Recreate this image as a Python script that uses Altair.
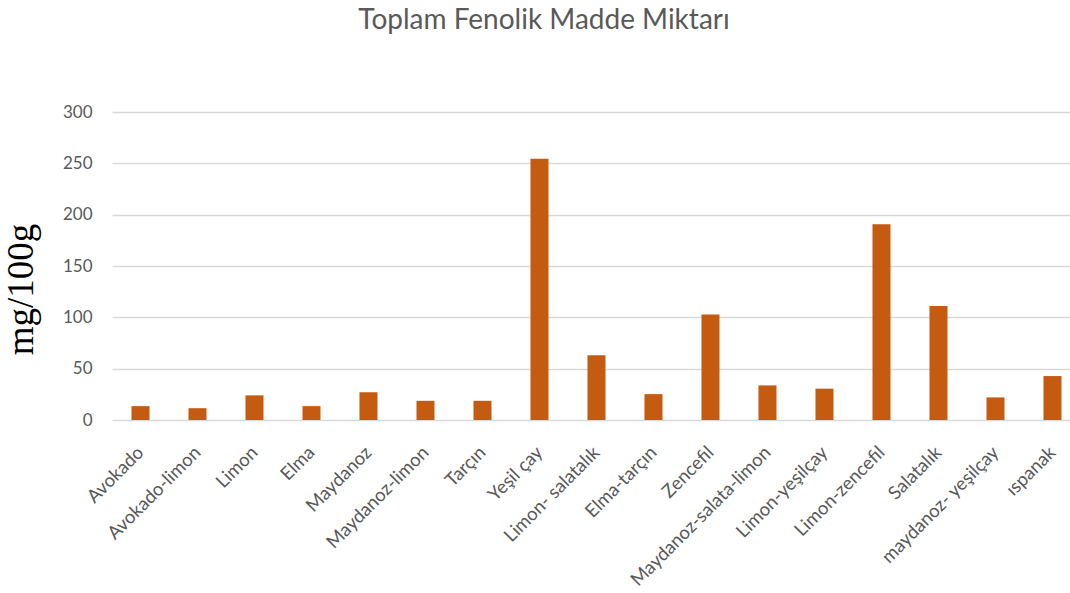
import altair as alt
import pandas as pd

categories = ["Avokado", "Avokado-limon", "Limon", "Elma", "Maydanoz", "Maydanoz-limon",
              "Tarçın", "Yeşil çay", "Limon- salatalık", "Elma-tarçın", "Zencefil",
              "Maydanoz-salata-limon", "Limon-yeşilçay", "Limon-zencefil", "Salatalık",
              "maydanoz- yeşilçay", "ıspanak"]
values = [13.5, 11.5, 24, 13.5, 27, 18.7, 18.7, 254.4, 63, 25.2, 102.7, 33.7, 30.5,
          190.6, 111, 22, 42.8]
y_ticks = [0, 50, 100, 150, 200, 250, 300]

df = pd.DataFrame({"cat": categories, "val": values})

GRAY = "#595959"

chart = alt.Chart(df).mark_bar(color="#c55a11").encode(
    x=alt.X("cat:N", sort=None, title=None,
            scale=alt.Scale(paddingInner=0.684, paddingOuter=0.2456, align=0.696),
            axis=alt.Axis(labelAngle=-45, labelFontSize=18.5, labelFont="Lato",
                          labelColor=GRAY, domain=False, ticks=False, labelPadding=29,
                          labelAlign="right", labelBaseline="middle",
                          labelLimit=300)),
    y=alt.Y("val:Q", title="mg/100g",
            scale=alt.Scale(domain=[0, 300], nice=False),
            axis=alt.Axis(values=y_ticks, labelFontSize=17, labelFont="Lato",
                          labelColor=GRAY, domain=False, ticks=False, labelPadding=20,
                          gridColor="#d9d9d9", gridWidth=1.3,
                          titleFont="Liberation Serif", titleFontSize=37,
                          titleFontWeight="normal", titleColor="#000000",
                          titleAngle=270, titleAlign="center", titleBaseline="alphabetic",
                          titleX=-80, titleY=177)),
).properties(
    width=958,
    height=308,
    title=alt.TitleParams("Toplam Fenolik Madde Miktarı", font="Lato", fontSize=28,
                          fontWeight="normal", color=GRAY, baseline="alphabetic",
                          offset=46, dx=-47),
    autosize=alt.AutoSizeParams(type="none"),
    padding={"left": 112, "top": 112, "right": 0, "bottom": 173},
).configure_view(stroke=None)

chart.save("out.html", embed_options={"renderer": "svg", "actions": False})
